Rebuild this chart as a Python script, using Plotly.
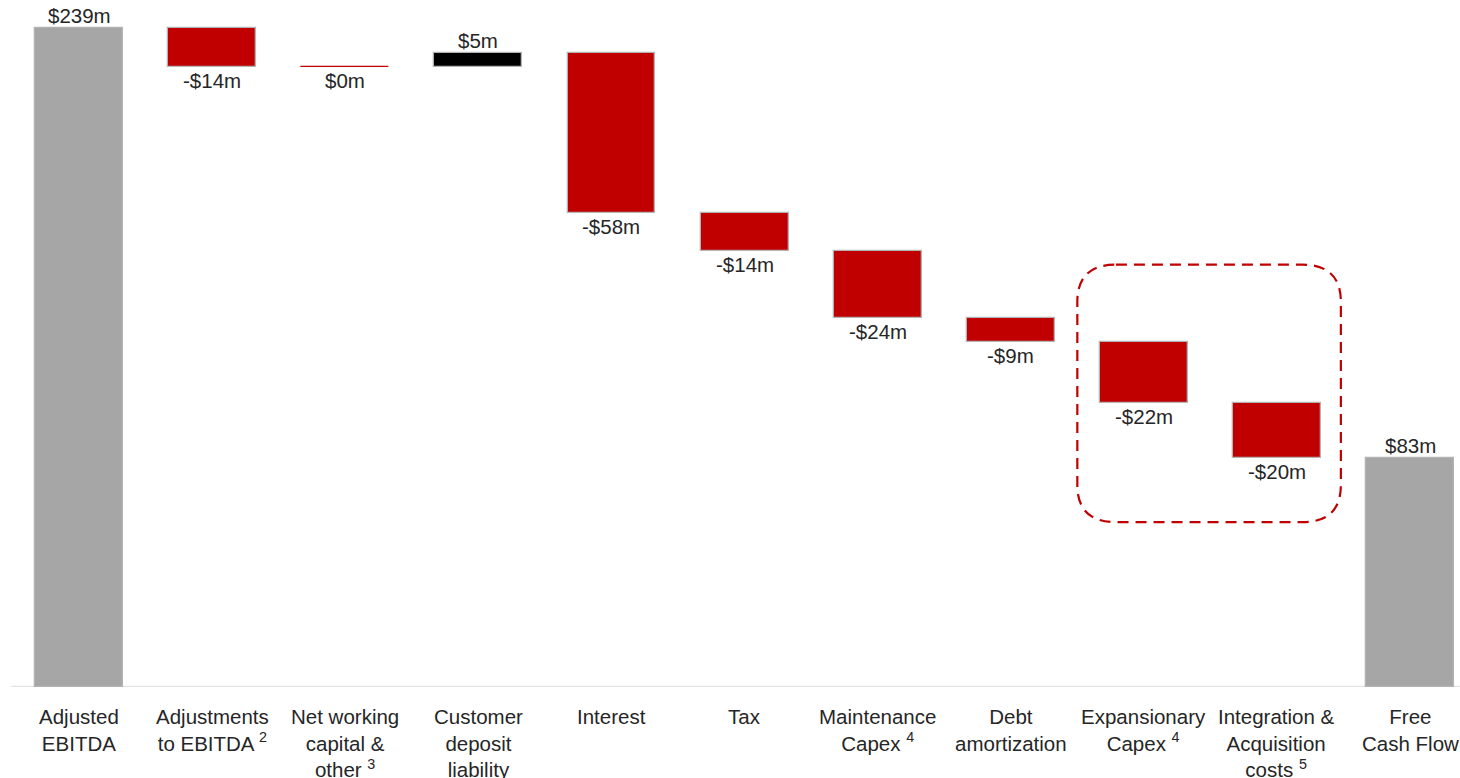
import plotly.graph_objects as go

# Free cash flow bridge ($m)
categories = [
    "Adjusted<br>EBITDA",
    "Adjustments<br>to EBITDA <sup>2</sup>",
    "Net working<br>capital &<br>other <sup>3</sup>",
    "Customer<br>deposit<br>liability",
    "Interest",
    "Tax",
    "Maintenance<br>Capex <sup>4</sup>",
    "Debt<br>amortization",
    "Expansionary<br>Capex <sup>4</sup>",
    "Integration &<br>Acquisition<br>costs <sup>5</sup>",
    "Free<br>Cash Flow",
]
values = [239, -14, 0, 5, -58, -14, -24, -9, -22, -20, 83]
kinds = ["total", "relative", "relative", "relative", "relative", "relative",
         "relative", "relative", "relative", "relative", "total"]

RED = "#C00000"
GREY = "#A6A6A6"
BLACK = "#000000"
TEXT = "#262626"
FONT = "Liberation Sans, Arial, sans-serif"
FS = 20.5

def fmt(v):
    return f"-${abs(v)}m" if v < 0 else f"${v}m"

# running totals -> bar bases / heights
bases, heights, colors, edges = [], [], [], []
running = 0
for v, k in zip(values, kinds):
    if k == "total":
        bases.append(0)
        heights.append(v)
        colors.append(GREY)
        edges.append("#b3b3b3")
        running = v
    else:
        bases.append(running)
        heights.append(v)
        colors.append(BLACK if v > 0 else RED)
        edges.append(RED if v == 0 else "#b3b3b3")
        running += v

xs = list(range(len(values)))

fig = go.Figure()
fig.add_trace(go.Bar(
    x=xs, y=heights, base=bases, width=0.66,
    marker=dict(color=colors, line=dict(color=edges, width=1.3)),
    hoverinfo="skip", showlegend=False,
))

annotations = []
for x, b, h, v, k in zip(xs, bases, heights, values, kinds):
    top = b + max(h, 0)
    bottom = b + min(h, 0)
    if k == "total" or v > 0:
        annotations.append(dict(x=x, y=top, text=fmt(v), showarrow=False,
                                yanchor="bottom", yshift=-1,
                                font=dict(family=FONT, size=FS, color=TEXT)))
    else:
        annotations.append(dict(x=x, y=bottom, text=fmt(v), showarrow=False,
                                yanchor="top", yshift=0,
                                font=dict(family=FONT, size=FS, color=TEXT)))

# category labels under the baseline
for x, c in zip(xs, categories):
    annotations.append(dict(x=x, y=0, yref="paper", text=c, showarrow=False,
                            yanchor="top", yshift=-16, align="center",
                            font=dict(family=FONT, size=FS, color=TEXT)))

# dashed rounded highlight around the growth-spend items
x0, x1 = 7.5, 9.48
y0, y1 = 59.8, 153.2
rx, ry = 0.29, 13.5
path = (f"M {x0+rx},{y1} L {x1-rx},{y1} Q {x1},{y1} {x1},{y1-ry} "
        f"L {x1},{y0+ry} Q {x1},{y0} {x1-rx},{y0} "
        f"L {x0+rx},{y0} Q {x0},{y0} {x0},{y0+ry} "
        f"L {x0},{y1-ry} Q {x0},{y1} {x0+rx},{y1} Z")

shapes = [
    dict(type="line", xref="paper", yref="y", x0=0.0075, x1=1, y0=0, y1=0,
         line=dict(color="#e3e3e3", width=2.5), layer="below"),
    dict(type="path", xref="x", yref="y", path=path,
         line=dict(color=RED, width=2.2, dash="11px,7px")),
]

fig.update_layout(
    width=1460, height=778,
    margin=dict(l=0, r=0, t=0, b=91),
    paper_bgcolor="white", plot_bgcolor="white",
    xaxis=dict(range=[-0.594, 10.375], showticklabels=False, showgrid=False,
               zeroline=False, showline=False, ticks=""),
    yaxis=dict(range=[0, 249.2], showticklabels=False, showgrid=False,
               zeroline=False, showline=False, ticks=""),
    annotations=annotations,
    shapes=shapes,
    bargap=0,
)

fig.write_html("out.html")
